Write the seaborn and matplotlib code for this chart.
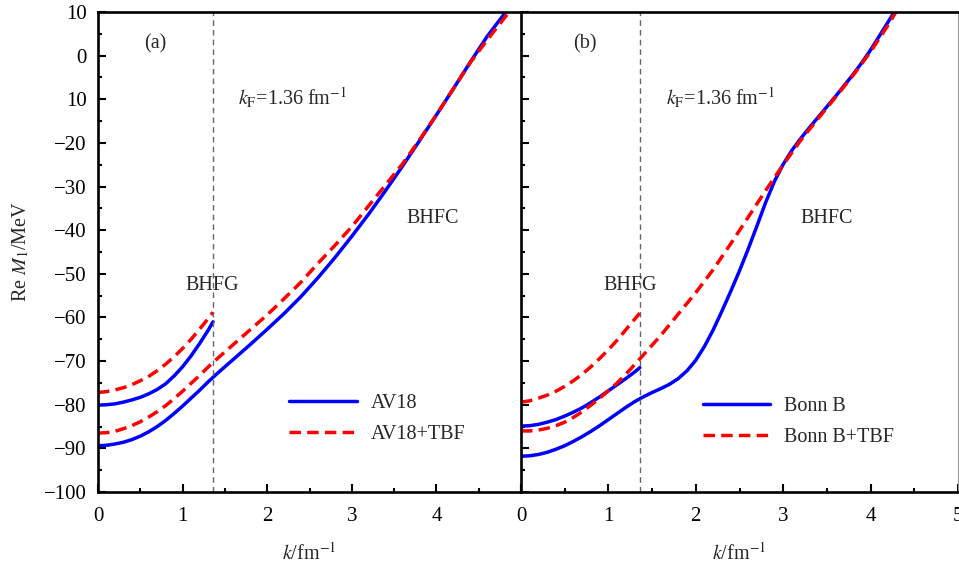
import matplotlib
matplotlib.use("Agg")
import matplotlib.pyplot as plt
from matplotlib.ticker import MultipleLocator, FixedLocator, FixedFormatter
from matplotlib.lines import Line2D
import seaborn as sns

# ---------------- data ----------------
k_fermi = 1.36

# (a) AV18, BHF ground state (k < kF)
k_a_g = [0, 0.1, 0.2, 0.3, 0.4, 0.5, 0.6, 0.7, 0.8, 0.9, 1.0, 1.1, 1.2, 1.3, 1.36]
av18_g = [-80.1, -80.0, -79.8, -79.4, -78.9, -78.3, -77.5, -76.5, -75.2,
          -73.4, -71.3, -68.8, -66.0, -63.0, -61.0]
av18tbf_g = [-77.2, -77.0, -76.6, -76.1, -75.4, -74.5, -73.5, -72.2, -70.7,
             -69.0, -67.1, -65.0, -62.7, -60.3, -58.8]

# (a) AV18, BHF continuous choice
k_a_c = [0, 0.1, 0.2, 0.3, 0.4, 0.5, 0.6, 0.7, 0.8, 0.9, 1.0, 1.1, 1.2, 1.3,
         1.4, 1.6, 1.8, 2.0, 2.2, 2.4, 2.6, 2.8, 3.0, 3.2, 3.4, 3.6, 3.8,
         4.0, 4.2, 4.4, 4.6, 4.82]
av18_c = [-89.4, -89.3, -89.0, -88.6, -88.0, -87.2, -86.2, -85.0, -83.6,
          -82.0, -80.3, -78.5, -76.7, -74.8, -73.0, -69.6, -66.2, -62.7,
          -59.1, -55.2, -50.9, -46.3, -41.4, -36.3, -30.9, -25.3, -19.5,
          -13.6, -7.6, -1.5, 4.4, 10.0]
k_a_c2 = [0, 0.1, 0.2, 0.3, 0.4, 0.5, 0.6, 0.7, 0.8, 0.9, 1.0, 1.1, 1.2, 1.3,
          1.4, 1.6, 1.8, 2.0, 2.2, 2.4, 2.6, 2.8, 3.0, 3.2, 3.4, 3.6, 3.8,
          4.0, 4.2, 4.4, 4.6, 4.86]
av18tbf_c = [-86.5, -86.4, -86.1, -85.5, -84.8, -83.9, -82.8, -81.6, -80.2,
             -78.6, -76.9, -75.1, -73.3, -71.4, -69.6, -66.2, -62.8, -59.4,
             -55.7, -51.9, -47.6, -43.5, -39.2, -34.4, -29.6, -24.8, -19.3,
             -13.6, -7.6, -1.6, 3.6, 10.0]

# (b) Bonn B, BHF ground state (k < kF)
k_b_g = [0, 0.1, 0.2, 0.3, 0.4, 0.5, 0.6, 0.7, 0.8, 0.9, 1.0, 1.1, 1.2, 1.3, 1.36]
bonn_g = [-84.9, -84.8, -84.5, -84.0, -83.4, -82.6, -81.7, -80.7, -79.5,
          -78.2, -76.8, -75.4, -74.0, -72.5, -71.5]
bonntbf_g = [-79.4, -79.1, -78.5, -77.8, -76.9, -75.8, -74.5, -73.0, -71.3,
             -69.4, -67.4, -65.2, -62.8, -60.4, -59.0]

# (b) Bonn B, BHF continuous choice
k_b_c = [0, 0.1, 0.2, 0.3, 0.4, 0.5, 0.6, 0.7, 0.8, 0.9, 1.0, 1.1, 1.2, 1.3,
         1.4, 1.5, 1.6, 1.7, 1.8, 1.9, 2.0, 2.1, 2.2, 2.3, 2.4, 2.5, 2.6,
         2.7, 2.8, 2.9, 3.0, 3.1, 3.2, 3.3, 3.4, 3.5, 3.6, 3.7, 3.8, 3.9,
         4.0, 4.1, 4.2, 4.27]
bonn_c = [-91.8, -91.7, -91.4, -90.9, -90.2, -89.4, -88.4, -87.3, -86.1,
          -84.8, -83.4, -82.0, -80.6, -79.3, -78.2, -77.2, -76.3, -75.3,
          -74.0, -72.2, -69.8, -66.6, -62.8, -58.5, -54.0, -49.3, -44.3,
          -39.0, -33.6, -28.8, -24.9, -21.7, -19.0, -16.5, -14.1, -11.7,
          -9.3, -6.8, -4.3, -1.6, 1.3, 4.5, 7.7, 10.0]
k_b_c2 = [0, 0.1, 0.2, 0.3, 0.4, 0.5, 0.6, 0.7, 0.8, 0.9, 1.0, 1.1, 1.2, 1.3,
          1.4, 1.6, 1.8, 2.0, 2.2, 2.4, 2.6, 2.8, 3.0, 3.2, 3.4, 3.6, 3.8,
          4.0, 4.2, 4.29]
bonntbf_c = [-86.0, -86.0, -85.8, -85.4, -84.8, -84.0, -82.9, -81.6, -80.1,
             -78.5, -76.8, -75.0, -73.0, -70.8, -68.6, -64.1, -59.2, -54.3,
             -49.0, -43.1, -37.0, -30.9, -25.0, -19.4, -14.4, -9.5, -4.5,
             0.9, 7.0, 10.0]

y_ticks = [-100, -90, -80, -70, -60, -50, -40, -30, -20, -10, 0, 10]
y_tick_labels = ["\u2212100", "\u221290", "\u221280", "\u221270", "\u221260",
                 "\u221250", "\u221240", "\u221230", "\u221220", "10", "0", "10"]
x_ticks = [0, 1, 2, 3, 4, 5]
x_tick_labels_a = ["0", "1", "2", "3", "4", ""]
x_tick_labels_b = ["0", "1", "2", "3", "4", "5"]

legend_a = ["AV18", "AV18+TBF"]
legend_b = ["Bonn B", "Bonn B+TBF"]

# ---------------- style ----------------
sns.set_theme(style="ticks")
plt.rcParams["font.family"] = ["Liberation Serif", "DejaVu Serif"]
plt.rcParams["mathtext.fontset"] = "stix"
plt.rcParams["axes.unicode_minus"] = True

BLUE = "#0000ff"
RED = "#ff0000"
LW = 2.5
DASH = (0, (3.3, 1.8))
FS = 14.5
TFS = 15

fig = plt.figure(figsize=(9.59, 5.69), dpi=100)
ax_a = fig.add_axes([98 / 959, 77 / 569, 423 / 959, 480 / 569])
ax_b = fig.add_axes([521 / 959, 77 / 569, 437 / 959, 480 / 569])


def draw_panel(ax, kg, g_plain, g_tbf, kc, c_plain, kc2, c_tbf):
    sns.lineplot(x=kg, y=g_plain, ax=ax, color=BLUE, lw=LW)
    sns.lineplot(x=kg, y=g_tbf, ax=ax, color=RED, lw=LW, linestyle=DASH)
    sns.lineplot(x=kc, y=c_plain, ax=ax, color=BLUE, lw=LW)
    sns.lineplot(x=kc2, y=c_tbf, ax=ax, color=RED, lw=LW, linestyle=DASH)
    ax.axvline(k_fermi, color="#666666", lw=1.0, linestyle=(0, (4, 3)))


draw_panel(ax_a, k_a_g, av18_g, av18tbf_g, k_a_c, av18_c, k_a_c2, av18tbf_c)
draw_panel(ax_b, k_b_g, bonn_g, bonntbf_g, k_b_c, bonn_c, k_b_c2, bonntbf_c)

for ax, xl in ((ax_a, x_tick_labels_a), (ax_b, x_tick_labels_b)):
    ax.set_xlim(0, 5)
    ax.set_ylim(-100, 10)
    ax.xaxis.set_major_locator(FixedLocator(x_ticks))
    ax.xaxis.set_major_formatter(FixedFormatter(xl))
    ax.xaxis.set_minor_locator(MultipleLocator(0.5))
    ax.yaxis.set_major_locator(FixedLocator(y_ticks))
    ax.yaxis.set_minor_locator(MultipleLocator(5))
    ax.tick_params(axis="both", which="both", direction="in", width=1.5,
                   colors="black", labelsize=TFS, top=False, right=False)
    ax.tick_params(axis="both", which="major", length=5.5)
    ax.tick_params(axis="both", which="minor", length=3)
    ax.tick_params(axis="x", pad=11)
    ax.tick_params(axis="y", pad=8)
    for s in ("left", "bottom", "top"):
        ax.spines[s].set_linewidth(1.9)
        ax.spines[s].set_color("black")
    ax.set_xlabel("$k$/fm$^{-1}$", fontsize=FS, labelpad=12)
    ax.set_facecolor("white")

ax_a.spines["right"].set_visible(False)
ax_b.spines["right"].set_linewidth(0.8)
ax_b.spines["right"].set_color("#999999")
ax_a.yaxis.set_major_formatter(FixedFormatter(y_tick_labels))
ax_b.tick_params(axis="y", labelleft=False)
ax_a.set_ylabel("Re $M_1$/MeV", fontsize=FS, labelpad=9)
ax_b.set_ylabel("")

# annotations
ax_a.text(0.68, 2.7, "(a)", fontsize=FS, ha="center", va="center")
ax_b.text(0.73, 2.7, "(b)", fontsize=FS, ha="center", va="center")
for ax in (ax_a, ax_b):
    ax.text(1.66, -9.7, "$k_{\\mathrm{F}}$=1.36 fm$^{-1}$", fontsize=FS,
            ha="left", va="center")
ax_a.text(3.96, -37.4, "BHFC", fontsize=FS, ha="center", va="center")
ax_b.text(3.50, -37.4, "BHFC", fontsize=FS, ha="center", va="center")
ax_a.text(1.35, -52.6, "BHFG", fontsize=FS, ha="center", va="center")
ax_b.text(1.25, -52.6, "BHFG", fontsize=FS, ha="center", va="center")

for ax, labels, anchor in ((ax_a, legend_a, (0.452, 0.204)),
                           (ax_b, legend_b, (0.416, 0.199))):
    handles = [Line2D([], [], color=BLUE, lw=LW),
               Line2D([], [], color=RED, lw=LW, linestyle=DASH)]
    ax.legend(handles, labels, loc="upper left", bbox_to_anchor=anchor,
              frameon=False, fontsize=FS, handlelength=3.35, handletextpad=0.7,
              labelspacing=0.6, borderpad=0, borderaxespad=0)

fig.savefig("out.png", dpi=100, facecolor="white")
